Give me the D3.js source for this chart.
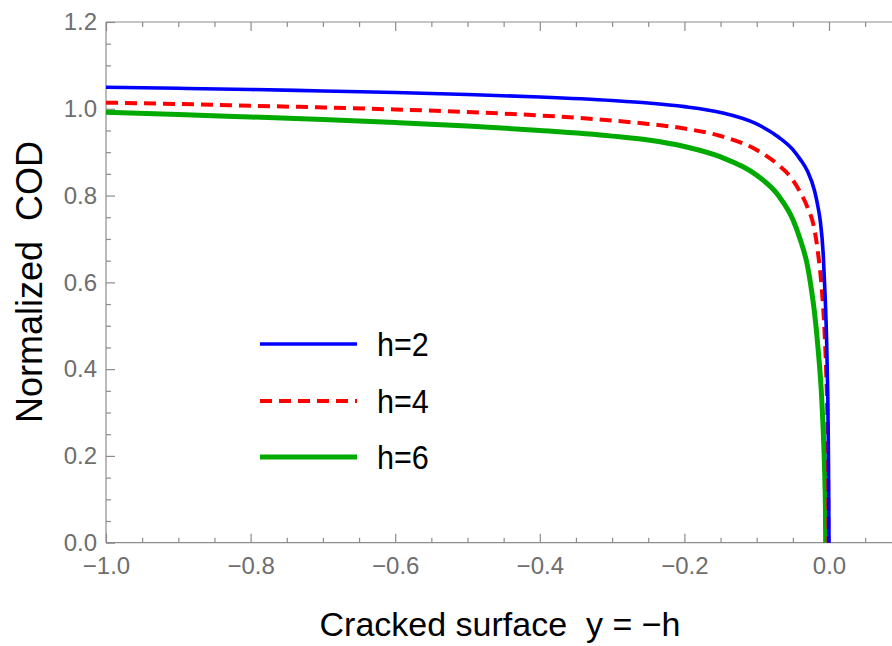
<!DOCTYPE html>
<html>
<head>
<meta charset="utf-8">
<script src="https://cdn.jsdelivr.net/npm/d3@7"></script>
<style>
  html, body { margin: 0; padding: 0; background: #fff; }
  svg { display: block; }
  text { font-family: "Liberation Sans", Arial, Helvetica, sans-serif; white-space: pre; }
</style>
</head>
<body>
<svg id="chart" width="892" height="646"></svg>
<script>
// Normalized crack opening displacement along the cracked surface y = -h
const h2X = [-1.0, -0.9, -0.8, -0.7, -0.6, -0.5, -0.4, -0.3, -0.25, -0.2, -0.15, -0.1, -0.07, -0.05, -0.04, -0.03, -0.02, -0.015, -0.012, -0.008, -0.0055, -0.0032, -0.0018, -0.001, -0.0004, 0.0];
const h2Y = [1.0496, 1.0472, 1.0445, 1.0410, 1.0376, 1.0330, 1.0272, 1.0191, 1.0134, 1.0050, 0.9915, 0.9650, 0.9350, 0.9060, 0.8840, 0.8570, 0.8110, 0.7720, 0.7410, 0.6650, 0.5740, 0.4600, 0.3480, 0.2420, 0.1120, 0.0];

const h4X = [-1.0, -0.9, -0.8, -0.7, -0.6, -0.5, -0.4, -0.3, -0.25, -0.2, -0.15, -0.1, -0.07, -0.05, -0.04, -0.03, -0.02, -0.015, -0.01, -0.006, -0.004, -0.002, -0.001, -0.0007];
const h4Y = [1.0141, 1.0111, 1.0071, 1.0030, 0.9984, 0.9926, 0.9846, 0.9730, 0.9650, 0.9546, 0.9373, 0.9051, 0.8705, 0.8359, 0.8083, 0.7737, 0.7207, 0.6650, 0.5850, 0.4800, 0.3980, 0.2620, 0.1100, 0.0];

const h6X = [-1.0, -0.9, -0.8, -0.7, -0.6, -0.5, -0.4, -0.3, -0.25, -0.2, -0.15, -0.1, -0.07, -0.05, -0.04, -0.03, -0.024, -0.02, -0.015, -0.01, -0.007, -0.0055, -0.005, -0.0046];
const h6Y = [0.9919, 0.9869, 0.9811, 0.9753, 0.9684, 0.9604, 0.9500, 0.9370, 0.9280, 0.9130, 0.8890, 0.8470, 0.8000, 0.7450, 0.7000, 0.6400, 0.5800, 0.5300, 0.4450, 0.3300, 0.2150, 0.1300, 0.0850, 0.0];

const seriesNames = ["h=2", "h=4", "h=6"];
const seriesColors = ["#0000ff", "#ff0000", "#00aa00"];

const xTickValues = [-1.0, -0.8, -0.6, -0.4, -0.2, 0.0];
const yTickValues = [0.0, 0.2, 0.4, 0.6, 0.8, 1.0, 1.2];

const xTitle = "Cracked surface  y = \u2212h";
const yTitle = "Normalized  COD";

// ---- layout ----
const svg = d3.select("#chart");
const W = 892, H = 646;
const plot = { left: 106, right: 892, top: 22, bottom: 542.7 };

const x = d3.scaleLinear().domain([-1.0, 0.0]).range([plot.left, 829]);
const y = d3.scaleLinear().domain([0, 1.2]).range([plot.bottom, plot.top]);
const xMax = x.invert(W);

const axisGray = "#8c8c8c";
const labelGray = "#6e6e6e";
const fmt = d => d3.format(".1f")(d).replace("-", "\u2212");

svg.append("rect").attr("width", W).attr("height", H).attr("fill", "#fff");

// frame lines (left, bottom, top)
const frame = svg.append("g").attr("stroke", axisGray).attr("stroke-width", 1.2).attr("fill", "none");
frame.append("line").attr("x1", plot.left).attr("x2", plot.left).attr("y1", plot.top).attr("y2", plot.bottom);
frame.append("line").attr("x1", plot.left).attr("x2", W).attr("y1", plot.bottom).attr("y2", plot.bottom);
frame.append("line").attr("x1", plot.left).attr("x2", W).attr("y1", plot.top).attr("y2", plot.top);

// tick sets: majors every 0.2, minors every 0.05
const isMajor = v => Math.abs(Math.round(v * 5) - v * 5) < 1e-6;
const xMinor = d3.range(-1.0, xMax + 1e-9, 0.05).map(v => +v.toFixed(2)).filter(v => !isMajor(v));
const xMajor = d3.range(-1.0, xMax + 1e-9, 0.2).map(v => +v.toFixed(2));
const yMinor = d3.range(0, 1.2 + 1e-9, 0.05).map(v => +v.toFixed(2)).filter(v => !isMajor(v));

const majorLen = 9, minorLen = 5;

function styleTicks(g) {
  g.select(".domain").remove();
  g.selectAll(".tick line").attr("stroke", axisGray).attr("stroke-width", 1.2);
}

// bottom axis (ticks pointing inward)
const gxb = svg.append("g").attr("transform", `translate(0,${plot.bottom})`)
  .call(d3.axisBottom(x).tickValues(xTickValues).tickSize(-majorLen).tickPadding(14).tickFormat(fmt));
styleTicks(gxb);
gxb.selectAll(".tick text").attr("fill", labelGray).attr("font-size", 24)
  .attr("font-family", "Liberation Sans, Arial, sans-serif");

svg.append("g").attr("transform", `translate(0,${plot.bottom})`)
  .call(d3.axisBottom(x).tickValues(xMinor).tickSize(-minorLen).tickFormat(""))
  .call(styleTicks);

// top axis (no labels)
svg.append("g").attr("transform", `translate(0,${plot.top})`)
  .call(d3.axisTop(x).tickValues(xMajor).tickSize(-majorLen).tickFormat(""))
  .call(styleTicks);
svg.append("g").attr("transform", `translate(0,${plot.top})`)
  .call(d3.axisTop(x).tickValues(xMinor).tickSize(-minorLen).tickFormat(""))
  .call(styleTicks);

// left axis
const gy = svg.append("g").attr("transform", `translate(${plot.left},0)`)
  .call(d3.axisLeft(y).tickValues(yTickValues).tickSize(-majorLen).tickPadding(9).tickFormat(d => d3.format(".1f")(d)));
styleTicks(gy);
gy.selectAll(".tick text").attr("fill", labelGray).attr("font-size", 24)
  .attr("font-family", "Liberation Sans, Arial, sans-serif");
svg.append("g").attr("transform", `translate(${plot.left},0)`)
  .call(d3.axisLeft(y).tickValues(yMinor).tickSize(-minorLen).tickFormat(""))
  .call(styleTicks);

// curves
const series = [
  { xs: h2X, ys: h2Y, color: seriesColors[0], width: 3.6, dash: null },
  { xs: h4X, ys: h4Y, color: seriesColors[1], width: 4, dash: "12,7" },
  { xs: h6X, ys: h6Y, color: seriesColors[2], width: 5, dash: null }
];
const line = d3.line().x(d => x(d[0])).y(d => y(d[1])).curve(d3.curveMonotoneX);

series.slice().reverse().forEach(s => {
  svg.append("path")
    .datum(s.xs.map((v, i) => [v, s.ys[i]]))
    .attr("fill", "none")
    .attr("stroke", s.color)
    .attr("stroke-width", s.width)
    .attr("stroke-dasharray", s.dash)
    .attr("d", line);
});

// legend
const legendRows = [344, 401, 457];
const lg = svg.append("g");
series.forEach((s, i) => {
  lg.append("line")
    .attr("x1", 260).attr("x2", 357)
    .attr("y1", legendRows[i]).attr("y2", legendRows[i])
    .attr("stroke", s.color).attr("stroke-width", s.width)
    .attr("stroke-dasharray", s.dash);
  lg.append("text")
    .attr("transform", `translate(377,${legendRows[i] + 12}) scale(0.9,1)`)
    .attr("font-size", 34)
    .attr("fill", "#000")
    .text(seriesNames[i]);
});

// axis titles
svg.append("text")
  .attr("x", 500).attr("y", 636)
  .attr("text-anchor", "middle")
  .attr("font-size", 34)
  .attr("fill", "#000")
  .text(xTitle);

svg.append("text")
  .attr("transform", "translate(42,282) rotate(-90)")
  .attr("text-anchor", "middle")
  .attr("font-size", 36)
  .attr("fill", "#000")
  .text(yTitle);
</script>
</body>
</html>
